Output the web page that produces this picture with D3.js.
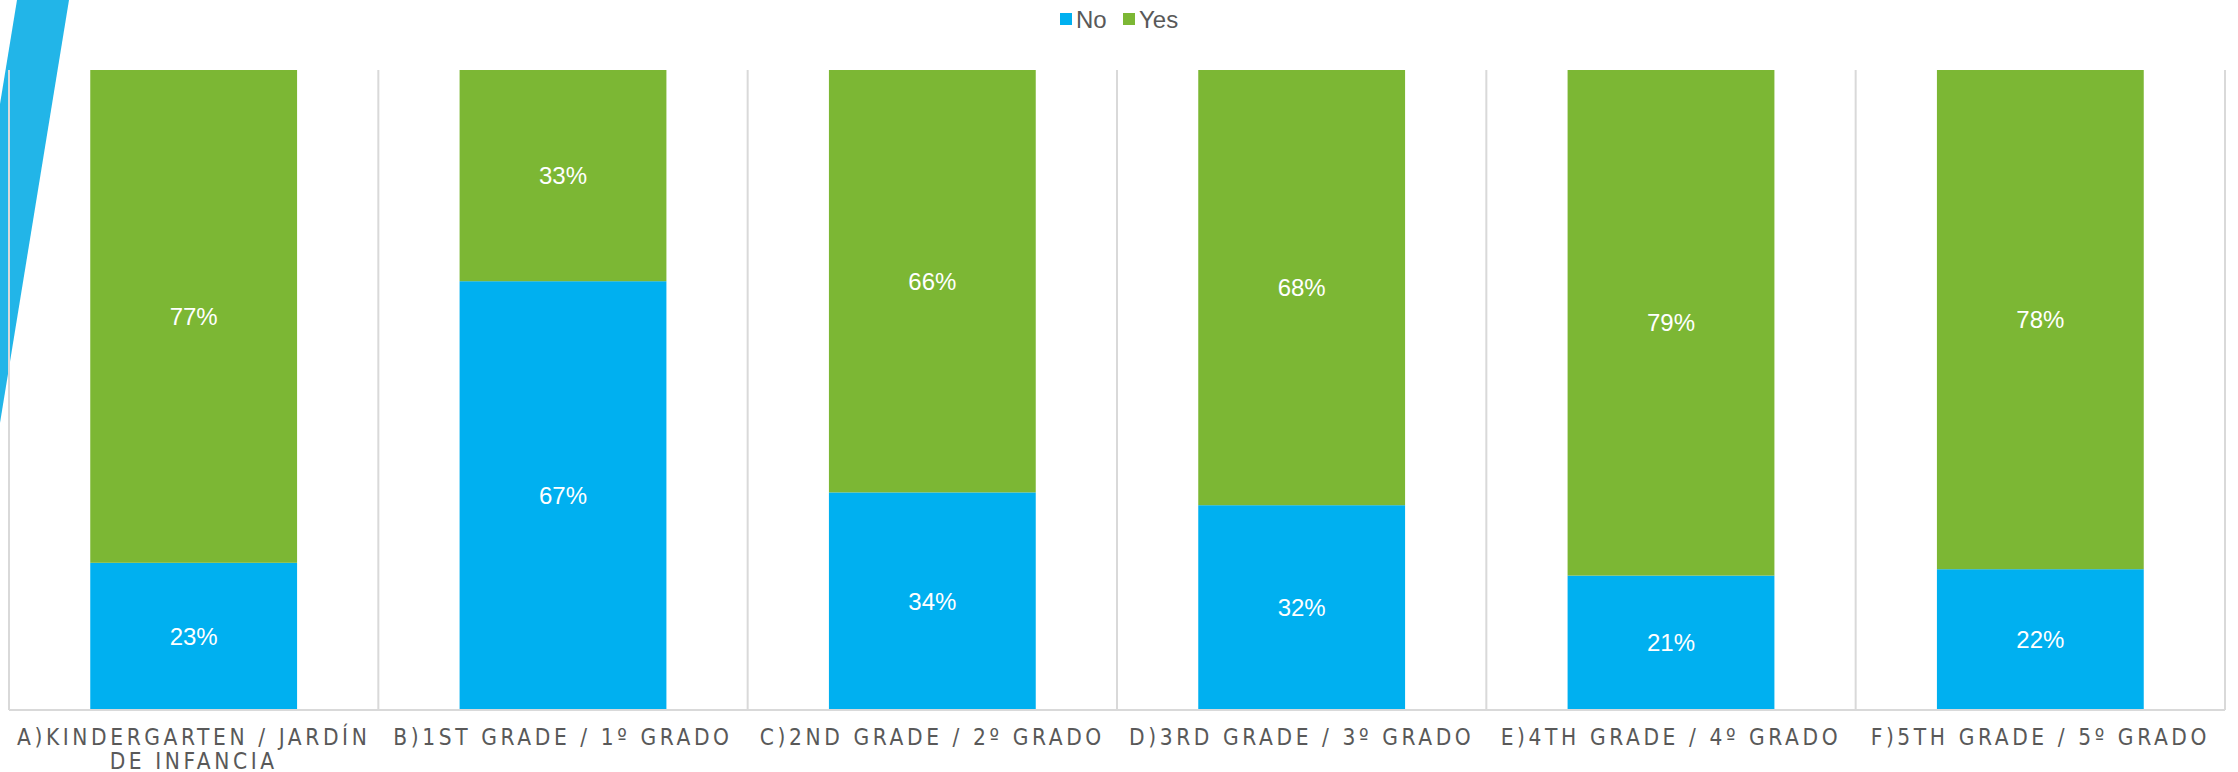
<!DOCTYPE html>
<html>
<head>
<meta charset="utf-8">
<script src="https://cdn.jsdelivr.net/npm/d3@7"></script>
<style>
  html, body { margin: 0; padding: 0; background: #ffffff; }
  svg { display: block; }
</style>
</head>
<body>
<script>
const categories = [
  "A)Kindergarten / Jardín de infancia",
  "B)1st Grade / 1º Grado",
  "C)2nd Grade / 2º Grado",
  "D)3rd Grade / 3º Grado",
  "E)4th Grade / 4º Grado",
  "F)5th Grade / 5º Grado"
];
const seriesNames = ["No", "Yes"];
const noValues  = [23, 67, 34, 32, 21, 22];
const yesValues = [77, 33, 66, 68, 79, 78];
const colors = ["#00B0F0", "#7CB734"];

const W = 2238, H = 772;
const plot = { left: 9, right: 2225, top: 70, bottom: 710 };

const svg = d3.select("body").append("svg").attr("width", W).attr("height", H);

// decorative slanted band top-left
svg.append("polygon")
  .attr("points", "17,0 69,0 0,423 0,104")
  .attr("fill", "#22B5E8");

const xCat = d3.scaleBand().domain(categories).range([plot.left, plot.right]).padding(0);
const x = d3.scaleBand().domain(categories).range([plot.left, plot.right])
  .paddingInner(0.44).paddingOuter(0.22);
const y = d3.scaleLinear().domain([0, 100]).range([plot.bottom, plot.top]);

// vertical separators
const bounds = categories.map(c => xCat(c)).concat([plot.right]);
svg.append("g").selectAll("line").data(bounds).join("line")
  .attr("x1", d => d).attr("x2", d => d)
  .attr("y1", plot.top).attr("y2", plot.bottom)
  .attr("stroke", "#D9D9D9").attr("stroke-width", 2);

// stacked data
const rows = categories.map((c, i) => ({ cat: c, No: noValues[i], Yes: yesValues[i] }));
const stack = d3.stack().keys(seriesNames)(rows);

const layers = svg.append("g").selectAll("g").data(stack).join("g")
  .attr("fill", (d, i) => colors[i]);
layers.selectAll("rect").data(d => d).join("rect")
  .attr("x", d => x(d.data.cat))
  .attr("width", x.bandwidth())
  .attr("y", d => y(d[1]))
  .attr("height", d => y(d[0]) - y(d[1]));

// value labels
layers.selectAll("text").data(d => d).join("text")
  .attr("x", d => x(d.data.cat) + x.bandwidth() / 2)
  .attr("y", d => (y(d[0]) + y(d[1])) / 2)
  .attr("dy", "0.36em")
  .attr("text-anchor", "middle")
  .attr("fill", "#ffffff")
  .attr("font-family", "'Liberation Sans', Arial, sans-serif")
  .attr("font-size", 24)
  .text(d => (d[1] - d[0]) + "%");

// baseline
svg.append("line")
  .attr("x1", plot.left).attr("x2", plot.right)
  .attr("y1", plot.bottom).attr("y2", plot.bottom)
  .attr("stroke", "#D9D9D9").attr("stroke-width", 2);

// x axis labels
const axis = d3.axisBottom(xCat).tickSize(0).tickSizeOuter(0).tickPadding(0);
const gAxis = svg.append("g").attr("transform", `translate(0,${plot.bottom})`).call(axis);
gAxis.select(".domain").remove();
gAxis.selectAll("text")
  .attr("font-family", "'Liberation Sans Narrow', 'Arial Narrow', 'DejaVu Sans Condensed', sans-serif")
  .attr("font-size", 22.5)
  .attr("fill", "#595959")
  .style("letter-spacing", "3.6px")
  .attr("y", 35)
  .attr("dy", 0)
  .each(function(d) {
    const t = d3.select(this);
    const words = d.toUpperCase().split(" ");
    const maxW = xCat.bandwidth() - 2;
    t.text(null);
    let line = [];
    let lineNo = 0;
    let tspan = t.append("tspan").attr("x", 0).attr("y", 35);
    for (const w of words) {
      line.push(w);
      tspan.text(line.join(" "));
      if (tspan.node().getComputedTextLength() > maxW && line.length > 1) {
        line.pop();
        tspan.text(line.join(" "));
        line = [w];
        lineNo++;
        tspan = t.append("tspan").attr("x", 0).attr("y", 35 + lineNo * 23.5).text(w);
      }
    }
  });

// legend
const legend = svg.append("g").attr("font-family", "'Liberation Sans', Arial, sans-serif")
  .attr("font-size", 24).attr("fill", "#595959");
const legX = [1060, 1123];
seriesNames.forEach((s, i) => {
  legend.append("rect").attr("x", legX[i]).attr("y", 13).attr("width", 12).attr("height", 12)
    .attr("fill", colors[i]);
  legend.append("text").attr("x", legX[i] + 16).attr("y", 28).text(s);
});
</script>
</body>
</html>
